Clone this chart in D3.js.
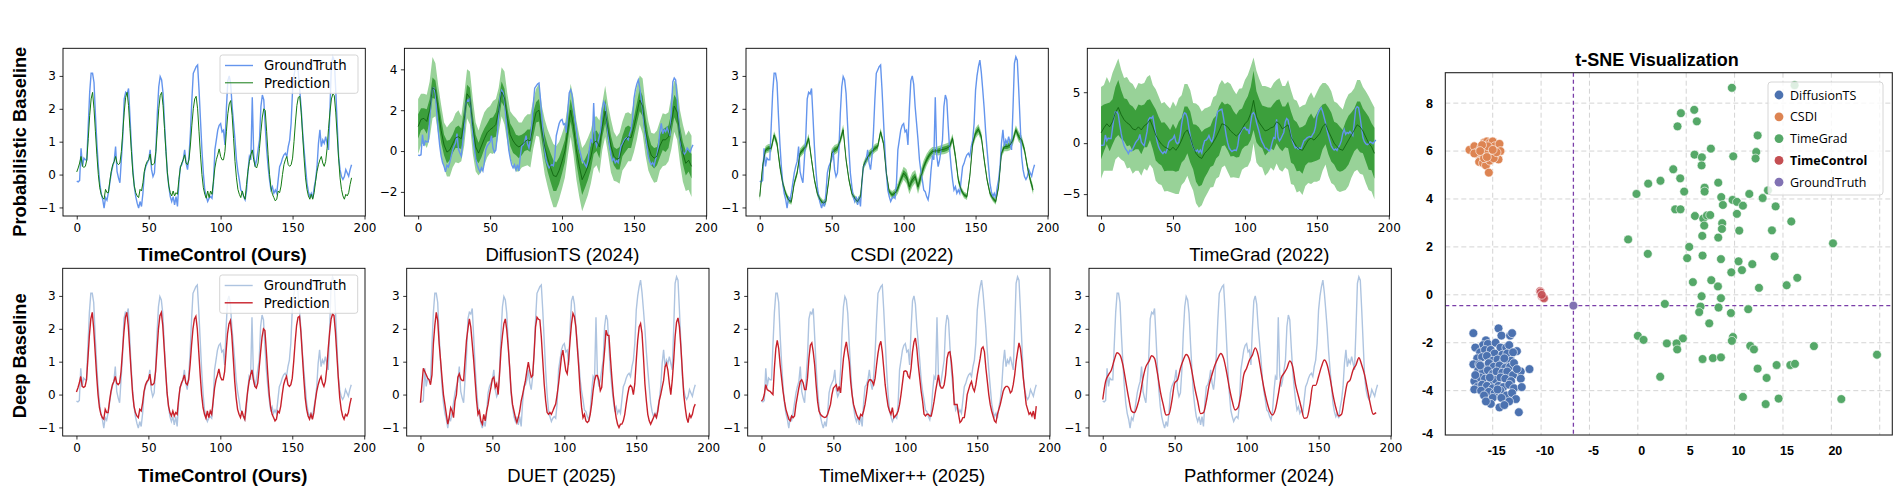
<!DOCTYPE html>
<html>
<head>
<meta charset="utf-8">
<script src="https://cdn.jsdelivr.net/npm/d3@7"></script>
<style>
body { margin: 0; background: #fff; }
text { font-family: "DejaVu Sans", sans-serif; }
</style>
</head>
<body>
<div id="chart"></div>
<script>
const W = 1893, H = 498;

// ground truth, 192 hourly steps (same series in every panel)
const groundTruth = [
  -0.2,-0.22,-0.18,0.8,0.25,0.5,0.45,0.45,1.5,2.5,3.08,3.08,
  2.8,1.8,0.95,0.25,-0.26,-0.57,-0.75,-1.02,-0.7,-0.78,-0.55,-0.25,
  0.05,0.25,0.4,0.85,0.1,-0.1,-0.25,0.45,1.15,2.3,2.5,2.45,
  2.62,1.76,0.85,0.15,-0.36,-0.67,-0.87,-1.02,-0.82,-0.97,-0.57,0.05,
  0.25,0.35,0.45,0.75,0.15,-0.06,0.05,0.75,1.86,2.67,2.98,2.88,
  2.47,1.56,0.75,0.04,-0.36,-0.67,-0.82,-0.67,-0.92,-0.67,-0.97,-0.25,
  0.24,0.3,0.45,0.75,0.35,0.15,0.55,1.26,2.27,3.08,3.18,3.28,
  3.33,2.57,1.66,0.75,0.04,-0.47,-0.67,-0.82,-0.72,-0.67,-0.72,-0.27,
  0.75,1.05,1.35,1.5,1.55,1.3,1.35,0.9,2.0,2.85,3.0,2.75,
  2.07,1.56,1.05,0.45,0.1,-0.16,-0.47,-0.52,-0.67,-0.77,-0.5,0.1,
  0.55,0.45,2.35,0.6,0.24,0.45,0.75,1.05,2.07,2.42,2.27,1.46,
  0.75,0.24,-0.16,-0.47,-0.37,-0.57,-0.47,-0.57,-0.16,0.24,0.34,0.5,
  0.6,0.65,0.55,0.85,1.05,1.56,2.57,3.0,3.28,3.48,3.1,2.57,
  2.0,1.3,0.75,0.24,-0.26,-0.52,-0.67,-0.57,-0.72,-0.4,-0.16,0.24,
  0.95,1.36,0.85,1.05,0.95,1.15,0.95,0.75,2.0,3.38,3.58,3.48,
  2.57,1.56,0.55,0.15,-0.06,-0.15,-0.06,0.15,0.05,-0.05,0.15,0.3
];

const timeControl = [
  0.08,0.2,0.35,0.55,0.25,0.22,0.25,0.45,1.1,1.8,2.3,2.5,
  2.0,1.3,0.6,0.0,-0.4,-0.6,-0.7,-0.75,-0.45,-0.55,-0.55,-0.2,
  0.1,0.3,0.4,0.55,0.35,0.3,0.35,0.7,1.3,1.9,2.35,2.5,
  2.1,1.4,0.7,0.05,-0.35,-0.55,-0.65,-0.7,-0.45,-0.5,-0.25,0.1,
  0.3,0.4,0.45,0.62,0.3,0.3,0.35,0.7,1.35,2.0,2.4,2.5,
  2.1,1.4,0.7,0.05,-0.35,-0.55,-0.65,-0.5,-0.65,-0.55,-0.6,-0.15,
  0.2,0.35,0.45,0.6,0.35,0.3,0.45,0.9,1.5,2.0,2.3,2.38,
  2.0,1.3,0.6,0.0,-0.4,-0.6,-0.72,-0.5,-0.7,-0.5,-0.6,-0.2,
  0.2,0.45,0.6,0.78,0.55,0.45,0.45,0.7,1.3,1.85,2.15,2.25,
  1.8,1.1,0.4,-0.1,-0.45,-0.6,-0.7,-0.5,-0.65,-0.75,-0.3,0.1,
  0.4,0.6,0.75,0.45,0.25,0.2,0.35,0.8,1.3,1.75,2.0,1.95,
  1.3,0.6,0.0,-0.4,-0.6,-0.7,-0.8,-0.75,-0.5,-0.55,-0.35,0.0,
  0.3,0.45,0.55,0.3,0.25,0.3,0.5,1.0,1.6,2.1,2.35,2.38,
  1.9,1.2,0.5,-0.1,-0.45,-0.65,-0.75,-0.6,-0.75,-0.55,-0.2,0.1,
  0.3,0.45,0.55,0.35,0.25,0.4,0.8,1.4,1.9,2.3,2.45,2.4,
  1.9,1.2,0.5,-0.1,-0.45,-0.65,-0.75,-0.6,-0.65,-0.55,-0.3,-0.1
];

const duet = [
  -0.25,0.3,0.8,0.7,0.6,0.5,0.45,0.3,0.6,1.55,2.1,2.5,
  2.25,1.55,1.04,0.5,0.0,-0.3,-0.6,-0.9,-0.7,-0.4,-0.5,-0.7,
  -0.2,0.0,0.53,0.63,0.48,0.43,0.43,1.04,1.65,2.0,2.3,2.05,
  1.55,1.04,0.43,-0.18,-0.6,-0.5,-0.8,-0.9,-0.6,-0.8,-0.5,-0.3,
  0.0,0.22,0.48,0.53,0.22,0.33,0.0,0.63,1.35,1.8,2.16,2.3,
  1.96,1.45,0.84,0.12,-0.3,-0.5,-0.7,-0.85,-0.7,-0.5,-0.2,0.0,
  0.22,0.43,0.73,0.99,0.73,0.53,0.58,1.25,2.06,2.35,2.29,2.27,
  1.76,1.04,0.33,-0.18,-0.54,-0.6,-0.54,-0.6,-0.5,-0.39,-0.29,0.0,
  0.33,0.73,1.14,1.35,1.04,0.73,0.63,1.04,1.65,2.16,2.47,2.37,
  2.06,1.45,0.84,0.12,-0.39,-0.7,-0.6,-0.8,-0.85,-0.8,-0.6,-0.29,
  0.12,0.43,0.58,0.58,0.43,0.12,0.22,0.84,1.35,1.96,1.8,1.8,
  1.14,0.53,0.0,-0.39,-0.7,-0.9,-1.0,-0.9,-0.9,-0.8,-0.6,-0.29,
  0.0,0.22,0.28,0.22,0.0,0.33,1.04,1.65,2.06,2.16,1.86,1.14,
  0.33,-0.18,-0.6,-0.8,-0.9,-0.8,-0.7,-0.6,-0.7,-0.5,-0.18,0.0,
  0.22,0.43,0.84,0.94,0.73,0.33,0.0,0.43,1.04,1.76,2.2,2.33,
  2.06,1.45,0.73,0.0,-0.39,-0.7,-0.85,-0.6,-0.7,-0.6,-0.39,-0.29
];

const timeMixer = [
  -0.2,-0.15,0.0,0.3,0.15,0.12,0.1,0.05,0.0,0.8,1.4,1.65,
  1.4,0.9,0.5,0.1,-0.2,-0.45,-0.6,-0.75,-0.8,-0.65,-0.7,-0.65,
  -0.3,-0.05,0.2,0.4,0.45,0.35,0.15,0.15,0.5,1.1,1.5,1.57,
  1.3,0.9,0.3,-0.2,-0.5,-0.6,-0.65,-0.68,-0.7,-0.68,-0.6,-0.45,
  -0.3,0.0,0.2,0.25,0.3,0.1,0.25,0.05,0.6,1.1,1.4,1.6,
  1.3,1.0,0.4,0.0,-0.3,-0.45,-0.6,-0.7,-0.75,-0.6,-0.65,-0.5,
  -0.3,0.0,0.35,0.45,0.45,0.4,0.3,0.5,0.9,1.25,1.5,1.62,
  1.3,0.8,0.3,-0.05,-0.35,-0.5,-0.6,-0.4,-0.7,-0.65,-0.6,-0.5,
  -0.3,0.0,0.35,0.7,0.72,0.7,0.55,0.5,0.8,1.3,1.6,1.72,
  1.4,0.9,0.5,0.1,-0.2,-0.6,-0.65,-0.6,-0.6,-0.65,-0.65,-0.45,
  -0.2,0.1,0.35,0.6,0.3,0.2,0.2,0.3,0.6,1.1,1.28,1.3,
  1.0,0.5,-0.3,-0.3,-0.3,-0.6,-0.85,-0.8,-0.7,-0.7,-0.4,0.0,
  0.15,0.3,0.4,0.2,0.1,0.3,0.6,0.85,1.1,1.4,1.45,1.3,
  0.8,0.4,0.0,-0.3,-0.5,-0.65,-0.8,-0.85,-0.6,-0.45,-0.3,-0.1,
  0.1,0.2,0.25,0.25,0.2,0.05,0.1,0.3,0.6,1.0,1.3,1.57,
  1.4,1.0,0.5,0.1,-0.3,-0.45,-0.6,-0.55,-0.65,-0.5,-0.75,-0.35
];

// every second step from here on
const pathformer = [
  -0.15,0.4,0.6,0.75,1.05,1.27,1.2,0.9,0.4,-0.1,-0.5,-0.55,
  -0.35,0.0,0.5,0.85,1.0,1.18,1.1,0.65,0.1,-0.3,-0.62,-0.6,
  -0.2,0.35,0.45,0.8,1.05,1.22,1.1,0.7,0.2,-0.2,-0.58,-0.55,
  -0.2,0.3,0.62,0.9,1.1,1.25,1.1,0.7,0.2,-0.2,-0.47,-0.4,
  0.0,0.6,0.8,1.05,1.2,1.42,1.2,0.7,0.2,-0.2,-0.5,-0.62,
  -0.45,0.0,0.5,0.65,0.8,1.02,0.85,0.3,-0.05,-0.4,-0.72,-0.7,
  -0.3,0.28,0.28,0.55,0.85,1.05,0.9,0.5,0.0,-0.4,-0.65,-0.6,
  -0.1,0.35,0.45,0.75,0.9,1.12,0.9,0.6,0.15,-0.3,-0.6,-0.55
];

const diffusionMid = [
  1.2,1.55,1.6,1.45,2.0,3.1,3.0,2.0,1.0,0.3,-0.05,0.05,
  0.35,0.65,0.7,0.6,1.5,2.8,2.6,1.2,0.2,-0.1,0.25,0.6,
  0.9,1.05,1.15,1.3,2.0,2.9,2.6,1.6,0.8,0.5,0.3,0.2,
  0.3,0.45,0.55,0.5,1.3,1.9,2.0,1.0,0.2,-0.35,-0.8,-1.2,
  -1.25,-0.95,-0.5,0.0,1.0,2.0,1.2,0.05,-0.75,-1.4,-1.1,-0.75,
  -0.3,0.4,0.5,0.2,1.2,1.95,1.05,0.25,-0.25,-0.4,-0.35,0.25,
  0.55,0.7,0.65,1.2,1.85,2.5,2.2,1.05,0.25,-0.2,-0.35,-0.25,
  0.25,0.55,0.55,0.7,1.4,2.2,1.9,0.7,-0.1,-0.6,-0.45,-0.75
];
const diffusionInner = [
  0.6,0.55,0.5,0.6,0.55,0.5,0.45,0.55,0.6,0.5,0.55,0.5,
  0.45,0.5,0.55,0.5,0.6,0.45,0.5,0.55,0.6,0.5,0.55,0.5,
  0.45,0.55,0.5,0.6,0.55,0.5,0.45,0.5,0.55,0.6,0.5,0.55,
  0.5,0.45,0.5,0.55,0.6,0.5,0.55,0.5,0.6,0.65,0.7,0.75,
  0.7,0.65,0.6,0.55,0.5,0.55,0.6,0.65,0.7,0.75,0.7,0.65,
  0.6,0.55,0.5,0.55,0.5,0.6,0.55,0.5,0.45,0.5,0.55,0.5,
  0.6,0.55,0.5,0.45,0.5,0.55,0.5,0.6,0.55,0.5,0.5,0.45,
  0.55,0.5,0.6,0.55,0.5,0.55,0.6,0.5,0.55,0.6,0.55,0.6
];
const diffusionOuter = [
  1.35,1.25,1.2,1.3,1.4,1.5,1.3,1.2,1.25,1.1,1.2,1.3,
  1.15,1.2,1.3,1.1,1.25,1.2,1.3,1.35,1.2,1.1,1.25,1.3,
  1.2,1.15,1.3,1.25,1.1,1.2,1.3,1.2,1.15,1.25,1.3,1.2,
  1.1,1.2,1.25,1.3,1.2,1.15,1.3,1.2,1.35,1.4,1.5,1.55,
  1.5,1.4,1.35,1.3,1.25,1.3,1.4,1.45,1.5,1.55,1.45,1.4,
  1.3,1.25,1.2,1.3,1.15,1.25,1.2,1.3,1.2,1.1,1.25,1.2,
  1.3,1.2,1.15,1.25,1.3,1.2,1.35,1.25,1.2,1.1,1.2,1.25,
  1.2,1.3,1.25,1.2,1.3,1.25,1.35,1.3,1.4,1.35,1.45,1.5
];

const csdiMid = [
  -0.67,0.25,0.75,0.8,0.8,1.2,0.95,0.25,-0.26,-0.57,-0.77,-0.82,
  -0.26,0.05,0.65,0.75,0.85,1.1,0.45,-0.16,-0.57,-0.77,-0.87,-0.82,
  -0.16,0.65,0.75,0.8,1.05,1.36,0.45,-0.16,-0.57,-0.72,-0.82,-0.67,
  0.25,0.45,0.6,0.7,0.8,0.85,1.3,0.95,0.04,-0.52,-0.62,-0.57,
  -0.42,-0.16,0.04,-0.06,-0.37,-0.16,-0.06,-0.37,-0.06,0.24,0.45,0.6,
  0.7,0.72,0.72,0.75,0.77,0.8,0.85,1.1,0.55,-0.16,-0.47,-0.62,
  -0.67,-0.06,0.95,1.26,1.38,1.15,0.45,-0.16,-0.57,-0.72,-0.82,-0.37,
  0.65,0.85,0.85,0.9,1.05,1.36,1.15,1.05,0.75,0.24,-0.16,-0.47
];
const csdiInner = [
  0.08,0.07,0.06,0.07,0.06,0.06,0.07,0.08,0.06,0.05,0.05,0.05,
  0.05,0.05,0.07,0.07,0.07,0.07,0.06,0.05,0.05,0.05,0.05,0.05,
  0.06,0.07,0.08,0.07,0.07,0.08,0.06,0.05,0.05,0.05,0.05,0.05,
  0.06,0.07,0.07,0.06,0.07,0.06,0.06,0.05,0.05,0.05,0.06,0.07,
  0.08,0.09,0.1,0.11,0.12,0.11,0.1,0.11,0.12,0.1,0.09,0.08,
  0.07,0.06,0.07,0.07,0.08,0.08,0.07,0.07,0.08,0.06,0.05,0.05,
  0.05,0.06,0.07,0.08,0.08,0.07,0.06,0.05,0.05,0.05,0.05,0.05,
  0.06,0.07,0.07,0.08,0.07,0.07,0.08,0.07,0.06,0.06,0.06,0.07
];
const csdiOuter = [
  0.16,0.14,0.12,0.13,0.12,0.12,0.14,0.15,0.12,0.1,0.1,0.1,
  0.1,0.11,0.14,0.14,0.13,0.14,0.12,0.1,0.1,0.1,0.1,0.1,
  0.12,0.14,0.15,0.14,0.13,0.16,0.12,0.1,0.1,0.1,0.1,0.1,
  0.12,0.13,0.14,0.12,0.13,0.12,0.12,0.1,0.1,0.1,0.12,0.14,
  0.16,0.18,0.2,0.22,0.23,0.22,0.2,0.22,0.23,0.2,0.18,0.16,
  0.14,0.12,0.14,0.14,0.15,0.15,0.14,0.14,0.16,0.12,0.1,0.1,
  0.1,0.12,0.14,0.16,0.16,0.14,0.12,0.1,0.1,0.1,0.1,0.1,
  0.12,0.14,0.14,0.16,0.14,0.14,0.16,0.14,0.12,0.12,0.12,0.14
];

const timeGradMid = [
  1.0,1.5,1.9,1.6,2.1,3.0,3.5,2.8,2.3,2.0,1.8,1.4,
  1.3,1.6,1.3,1.7,1.9,2.3,1.6,0.8,0.3,-0.1,-0.35,-0.5,
  -0.7,-0.4,-0.7,-0.3,0.3,1.0,1.3,0.6,-0.35,-1.0,-1.35,-1.5,
  -1.0,-0.7,-0.35,0.1,0.6,1.2,1.9,1.8,1.6,1.2,0.95,0.7,
  0.95,1.4,1.9,2.2,2.9,4.2,2.6,2.0,1.6,1.2,1.3,1.5,
  1.6,2.1,1.9,1.4,1.6,1.8,0.6,0.1,-0.35,-0.6,-0.7,-0.2,
  0.3,0.5,0.3,0.6,0.95,1.6,1.9,1.2,0.6,0.0,-0.35,-0.6,
  -0.7,-0.2,0.3,0.8,1.3,1.8,1.6,1.2,0.6,0.0,-0.35,-1.0
];
const timeGradInner = [
  2.6,2.3,2.0,2.4,2.2,2.5,2.7,2.4,2.1,2.3,2.0,2.2,
  1.9,2.2,2.4,2.1,2.3,2.0,2.2,2.5,2.3,2.1,2.4,2.2,
  2.0,2.3,2.1,2.4,2.2,2.6,2.3,2.5,2.2,2.8,2.9,2.6,
  2.4,2.2,2.0,2.3,2.1,2.4,2.2,2.0,2.3,2.5,2.2,2.1,
  2.3,2.0,2.2,2.4,2.6,2.9,2.5,2.3,2.1,2.4,2.2,2.0,
  2.3,2.1,2.4,2.2,2.0,2.3,2.5,2.2,2.4,2.1,2.3,2.0,
  2.2,2.4,2.1,2.3,2.5,2.2,2.0,2.3,2.4,2.1,2.3,2.2,
  2.0,2.3,2.4,2.2,2.1,2.3,2.5,2.2,2.4,2.6,2.3,2.5
];
const timeGradOuter = [
  4.5,4.2,4.6,4.3,4.8,4.6,4.8,4.4,4.1,4.5,4.2,4.4,
  4.0,4.3,4.5,4.2,4.6,4.4,4.1,4.5,4.3,4.0,4.4,4.2,
  4.1,4.5,4.3,4.7,4.4,4.8,4.5,4.6,4.3,4.9,5.0,4.6,
  4.4,4.2,4.0,4.4,4.1,4.5,4.3,4.0,4.4,4.6,4.3,4.1,
  4.4,4.0,4.3,4.5,4.6,4.2,4.5,4.3,4.0,4.4,4.2,3.9,
  4.3,4.1,4.5,4.2,4.0,4.4,4.6,4.2,4.5,4.1,4.4,4.0,
  4.2,4.5,4.1,4.4,4.6,4.3,4.0,4.4,4.5,4.1,4.3,4.2,
  4.0,4.4,4.5,4.2,4.1,4.4,4.6,4.3,4.5,4.6,4.4,4.5
];

const stepsAll = d3.range(0, 192);
const stepsHalf = d3.range(0, 192, 2);

// t-SNE points
const tsneDiffusion = [
  [-17.0,-1.6],[-14.4,-1.4],[-14.1,-1.7],[-13.2,-1.7],[-13.0,-1.6],[-15.7,-1.9],[-16.0,-2.1],[-15.5,-2.05],
  [-14.7,-2.0],[-14.2,-2.2],[-13.6,-2.2],[-13.3,-2.1],[-12.5,-2.35],[-16.8,-2.2],[-16.3,-2.4],[-15.8,-2.3],
  [-15.2,-2.3],[-14.8,-2.45],[-14.0,-2.5],[-13.5,-2.45],[-12.9,-2.4],[-16.6,-2.65],[-16.1,-2.6],[-15.6,-2.55],
  [-15.0,-2.75],[-14.5,-2.7],[-13.9,-2.8],[-13.1,-2.75],[-17.0,-2.9],[-16.4,-2.9],[-15.9,-3.0],[-15.4,-2.85],
  [-14.9,-3.0],[-14.3,-2.95],[-13.7,-3.05],[-13.2,-3.0],[-12.8,-2.85],[-16.5,-3.15],[-16.0,-3.2],[-15.5,-3.15],
  [-15.0,-3.3],[-14.6,-3.2],[-14.0,-3.25],[-13.5,-3.2],[-12.9,-3.35],[-12.1,-3.2],[-11.2,-3.1],[-16.9,-3.6],
  [-16.3,-3.45],[-15.8,-3.5],[-15.2,-3.6],[-14.7,-3.55],[-14.2,-3.45],[-13.7,-3.5],[-13.1,-3.6],[-12.1,-3.5],
  [-16.6,-3.85],[-16.1,-3.75],[-15.6,-3.8],[-15.0,-3.9],[-14.4,-3.8],[-13.9,-3.85],[-13.3,-3.75],[-12.8,-3.9],
  [-12.0,-3.85],[-16.9,-3.95],[-16.2,-4.0],[-15.4,-4.05],[-14.8,-4.1],[-14.2,-4.0],[-13.6,-4.2],[-13.0,-4.1],
  [-15.9,-4.2],[-15.0,-4.3],[-14.1,-4.3],[-12.6,-4.35],[-15.2,-4.55],[-13.3,-4.45],[-14.3,-4.7],[-12.3,-4.9],
  [-16.3,-2.95],[-15.3,-3.45],[-14.5,-3.95],[-13.8,-2.65],[-12.5,-3.1],[-16.8,-3.35],[-15.7,-4.45],[-13.8,-4.6]
];
const tsneCsdi = [
  [-17.4,6.05],[-16.9,6.2],[-16.4,5.8],[-16.2,6.15],[-15.9,6.35],[-15.6,6.4],[-15.3,6.35],[-15.0,6.4],
  [-14.8,6.2],[-14.3,6.3],[-14.2,6.0],[-14.4,5.65],[-14.8,5.8],[-15.1,5.95],[-15.4,6.1],[-15.8,5.95],
  [-16.2,5.75],[-16.4,5.55],[-16.0,5.5],[-15.7,5.4],[-15.3,5.6],[-14.9,5.7],[-14.6,5.95],[-15.5,6.2],
  [-15.9,5.7],[-16.6,5.95],[-16.9,5.9],[-15.4,5.1],[-16.1,6.25],[-15.0,6.05],[-15.6,5.75],[-16.3,6.0]
];
const tsneTimeGrad = [
  [9.72,8.64],[16.2,8.75],[4.45,7.58],[5.83,7.72],[6.1,7.24],[4.1,7.03],[12.38,6.65],[12.24,5.96],
  [12.17,5.69],[7.55,6.1],[5.86,5.85],[6.62,5.74],[6.59,5.4],[9.86,5.78],[3.66,5.24],[4.38,4.86],
  [2.34,4.76],[1.07,4.64],[-0.14,4.21],[4.79,4.31],[6.9,4.47],[6.9,4.31],[8.31,4.68],[8.62,4.08],
  [9.79,3.96],[10.24,3.88],[11.52,4.21],[12.9,4.04],[13.45,4.36],[10.86,3.72],[8.79,3.75],[14.24,3.69],
  [3.86,3.57],[4.41,3.57],[5.9,3.29],[6.76,3.18],[7.14,3.31],[7.48,3.33],[10.24,3.38],[8.72,2.99],
  [6.86,2.89],[8.69,2.75],[15.86,3.06],[10.48,2.68],[13.86,2.69],[6.66,2.46],[8.31,2.39],[-1.0,2.31],
  [5.31,2.0],[20.17,2.15],[1.03,1.71],[5.1,1.53],[6.69,1.64],[8.59,1.49],[10.41,1.4],[11.83,1.28],
  [14.14,1.6],[10.76,1.03],[9.66,0.94],[16.48,0.71],[5.69,0.53],[7.59,0.61],[8.28,0.35],[12.52,0.29],
  [15.38,0.4],[6.59,-0.06],[8.59,-0.14],[2.79,-0.38],[6.48,-0.49],[8.34,-0.53],[6.34,-0.72],[9.62,-0.76],
  [11.41,-0.6],[7.38,-1.19],[0.0,-1.71],[0.59,-1.88],[4.66,-1.82],[3.0,-2.03],[4.0,-2.03],[4.07,-2.28],
  [9.83,-1.76],[9.72,-1.92],[11.62,-2.13],[12.0,-2.28],[18.2,-2.14],[6.69,-2.68],[7.76,-2.64],[8.59,-2.61],
  [24.72,-2.5],[12.38,-3.08],[14.34,-2.93],[15.76,-2.93],[16.24,-2.88],[13.31,-3.47],[2.31,-3.42],[10.86,-4.26],
  [13.21,-4.56],[14.55,-4.33],[21.03,-4.35]
];
const tsneTimeControl = [[-10.1,0.15],[-10.05,0.1],[-9.95,-0.05],[-9.8,-0.1],[-9.7,-0.15],[-9.93,0.0]];
const tsneGroundTruth = [[-6.66,-0.45]];
const tsneXTicks = [-15, -10, -5, 0, 5, 10, 15, 20];
const tsneXGrid = [-15, -10, -5, 0, 5, 10, 15, 20, 25];
const tsneYTicks = [8, 6, 4, 2, 0, -2, -4];
const tsneLegend = ["DiffusionTS", "CSDI", "TimeGrad", "TimeControl", "GroundTruth"];

const C = {
  gtTop: "#6495ed", gtBottom: "#aec4e0", green: "#137b13", red: "#c8202a",
  bandOuter: "#98d298", bandInner: "#3c9f3c", mid: "#0b5e0b",
  blue: "#4c72b0", orange: "#dd8452", tgreen: "#55a868", tred: "#c44e52", purple: "#8172b3"
};

const svg = d3.select("#chart").append("svg").attr("width", W).attr("height", H);

const panelW = 302.3, panelH = 167.7;
const xDomain = [-9.55, 200.55];
const gtDomain = [-1.26, 3.84];

function panel(o) {
  const g = svg.append("g").attr("transform", `translate(${o.left},${o.top})`);
  const x = d3.scaleLinear().domain(xDomain).range([0, panelW]);
  const y = d3.scaleLinear().domain(o.yDomain).range([panelH, 0]);
  const id = "clip" + Math.round(o.left) + "_" + Math.round(o.top);
  g.append("clipPath").attr("id", id).append("rect").attr("width", panelW).attr("height", panelH);
  const plot = g.append("g").attr("clip-path", `url(#${id})`);

  if (o.band) {
    const b = o.band;
    const area = (w) => d3.area()
      .x((d, i) => x(stepsHalf[i]))
      .y0((d, i) => y(d - w[i]))
      .y1((d, i) => y(d + w[i]));
    plot.append("path").datum(b.mid).attr("d", area(b.outer)).attr("fill", C.bandOuter);
    plot.append("path").datum(b.mid).attr("d", area(b.inner)).attr("fill", C.bandInner);
  }
  const line = (xs) => d3.line().x((d, i) => x(xs[i])).y(d => y(d));
  plot.append("path").datum(groundTruth).attr("d", line(stepsAll))
    .attr("fill", "none").attr("stroke", o.gtColor).attr("stroke-width", 1.4);
  if (o.band) {
    plot.append("path").datum(o.band.mid).attr("d", line(stepsHalf))
      .attr("fill", "none").attr("stroke", C.mid).attr("stroke-width", 0.8);
  }
  if (o.pred) {
    const xs = o.pred.length === 192 ? stepsAll : stepsHalf;
    const ln = line(xs);
    if (o.smooth) ln.curve(d3.curveMonotoneX);
    plot.append("path").datum(o.pred).attr("d", ln)
      .attr("fill", "none").attr("stroke", o.predColor).attr("stroke-width", o.predWidth || 1.4);
  }

  // axes
  const xa = g.append("g").attr("transform", `translate(0,${panelH})`)
    .call(d3.axisBottom(x).tickValues([0, 50, 100, 150, 200]).tickSize(3.5).tickPadding(3.5));
  const ya = g.append("g")
    .call(d3.axisLeft(y).tickValues(o.yTicks).tickSize(3.5).tickPadding(3.5).tickFormat(d => d < 0 ? "\u2212" + Math.abs(d) : d));
  [xa, ya].forEach(a => {
    a.select(".domain").remove();
    a.selectAll("line").attr("stroke", "#000").attr("stroke-width", 0.8);
    a.selectAll("text").attr("fill", "#000").style("font-size", "12px").style("font-family", "DejaVu Sans");
  });
  g.append("rect").attr("width", panelW).attr("height", panelH)
    .attr("fill", "none").attr("stroke", "#000").attr("stroke-width", 0.9);

  g.append("text").attr("x", o.labelDx).attr("y", o.labelY - o.top)
    .attr("text-anchor", "middle")
    .style("font-family", "Liberation Sans, Arial, sans-serif")
    .style("font-size", "18.5px").style("font-weight", o.bold ? "bold" : "normal")
    .text(o.label);

  if (o.legend) {
    const lg = g.append("g").attr("transform", "translate(157,6.7)");
    lg.append("rect").attr("width", 138).attr("height", 38.3).attr("rx", 2.5)
      .attr("fill", "#fff").attr("fill-opacity", 0.8).attr("stroke", "#d0d0d0").attr("stroke-width", 0.9);
    [["GroundTruth", o.gtColor, 1.4], ["Prediction", o.predColor, o.predWidth || 1.4]].forEach((e, i) => {
      const yy = 10.5 + i * 17.3;
      lg.append("line").attr("x1", 5).attr("x2", 33).attr("y1", yy).attr("y2", yy)
        .attr("stroke", e[1]).attr("stroke-width", e[2]);
      lg.append("text").attr("x", 44).attr("y", yy).attr("dy", "0.36em")
        .style("font-size", "13.3px").text(e[0]);
    });
  }
}

const topLefts = [63, 404.4, 746, 1087.3];
const botLefts = [62.7, 406.7, 747.7, 1089];
const topY = 48.3, botY = 268.3;

panel({ left: topLefts[0], top: topY, yDomain: gtDomain, yTicks: [-1, 0, 1, 2, 3], gtColor: C.gtTop,
  pred: timeControl, predColor: C.green, predWidth: 1.0, legend: true,
  label: "TimeControl (Ours)", bold: true, labelDx: 159, labelY: 261 });
panel({ left: topLefts[1], top: topY, yDomain: [-3.18, 5.03], yTicks: [-2, 0, 2, 4], gtColor: C.gtTop,
  band: { mid: diffusionMid, inner: diffusionInner, outer: diffusionOuter },
  label: "DiffusionTS (2024)", labelDx: 158, labelY: 261 });
panel({ left: topLefts[2], top: topY, yDomain: gtDomain, yTicks: [-1, 0, 1, 2, 3], gtColor: C.gtTop,
  band: { mid: csdiMid, inner: csdiInner, outer: csdiOuter },
  label: "CSDI (2022)", labelDx: 156, labelY: 261 });
panel({ left: topLefts[3], top: topY, yDomain: [-7.15, 9.31], yTicks: [-5, 0, 5], gtColor: C.gtTop,
  band: { mid: timeGradMid, inner: timeGradInner, outer: timeGradOuter },
  label: "TimeGrad (2022)", labelDx: 172, labelY: 261 });

panel({ left: botLefts[0], top: botY, yDomain: gtDomain, yTicks: [-1, 0, 1, 2, 3], gtColor: C.gtBottom,
  pred: timeControl, predColor: C.red, legend: true,
  label: "TimeControl (Ours)", bold: true, labelDx: 160, labelY: 482 });
panel({ left: botLefts[1], top: botY, yDomain: gtDomain, yTicks: [-1, 0, 1, 2, 3], gtColor: C.gtBottom,
  pred: duet, predColor: C.red, label: "DUET (2025)", labelDx: 155, labelY: 482 });
panel({ left: botLefts[2], top: botY, yDomain: gtDomain, yTicks: [-1, 0, 1, 2, 3], gtColor: C.gtBottom,
  pred: timeMixer, predColor: C.red, label: "TimeMixer++ (2025)", labelDx: 154.5, labelY: 482 });
panel({ left: botLefts[3], top: botY, yDomain: gtDomain, yTicks: [-1, 0, 1, 2, 3], gtColor: C.gtBottom,
  pred: pathformer, predColor: C.red, smooth: true, label: "Pathformer (2024)", labelDx: 170, labelY: 482 });

// row titles
[["Probabilistic Baseline", 26, 141.7], ["Deep Baseline", 25.5, 355.8]].forEach(r => {
  svg.append("text").attr("transform", `translate(${r[1]},${r[2]}) rotate(-90)`)
    .attr("text-anchor", "middle")
    .style("font-family", "Liberation Sans, Arial, sans-serif")
    .style("font-size", "18.3px").style("font-weight", "bold").text(r[0]);
});

// t-SNE panel
(function () {
  const L = 1445.3, R = 1892.3, T = 72.7, B = 435;
  const x = d3.scaleLinear().domain([-19.9, 26.3]).range([L, R]);
  const y = d3.scaleLinear().domain([-5.85, 9.27]).range([B, T]);
  const g = svg.append("g");
  g.append("clipPath").attr("id", "tsneclip").append("rect")
    .attr("x", L).attr("y", T).attr("width", R - L).attr("height", B - T);
  const p = g.append("g").attr("clip-path", "url(#tsneclip)");

  p.selectAll(".vg").data(tsneXGrid).join("line")
    .attr("x1", d => x(d)).attr("x2", d => x(d)).attr("y1", T).attr("y2", B)
    .attr("stroke", "#d4d4d4").attr("stroke-width", 1).attr("stroke-dasharray", "5,3");
  p.selectAll(".hg").data(tsneYTicks).join("line")
    .attr("y1", d => y(d)).attr("y2", d => y(d)).attr("x1", L).attr("x2", R)
    .attr("stroke", "#d4d4d4").attr("stroke-width", 1).attr("stroke-dasharray", "5,3");

  const gt = tsneGroundTruth[0];
  p.append("line").attr("x1", x(gt[0])).attr("x2", x(gt[0])).attr("y1", T).attr("y2", B)
    .attr("stroke", "#7a3ea8").attr("stroke-width", 1.3).attr("stroke-dasharray", "4,3");
  p.append("line").attr("y1", y(gt[1])).attr("y2", y(gt[1])).attr("x1", L).attr("x2", R)
    .attr("stroke", "#7a3ea8").attr("stroke-width", 1.3).attr("stroke-dasharray", "4,3");

  const dots = (data, color, op) => p.append("g").selectAll("circle").data(data).join("circle")
    .attr("cx", d => x(d[0])).attr("cy", d => y(d[1])).attr("r", 4.4)
    .attr("fill", color).attr("fill-opacity", op).attr("stroke", "#fff").attr("stroke-width", 0.6);
  dots(tsneDiffusion, C.blue, 1);
  dots(tsneCsdi, C.orange, 1);
  dots(tsneTimeGrad, C.tgreen, 1);
  dots(tsneTimeControl, C.tred, 0.85);
  dots(tsneGroundTruth, C.purple, 1);

  g.append("rect").attr("x", L).attr("y", T).attr("width", R - L).attr("height", B - T)
    .attr("fill", "none").attr("stroke", "#222").attr("stroke-width", 1.1);

  const tickFont = (s) => s.style("font-family", "Liberation Sans, Arial, sans-serif")
    .style("font-weight", "bold").style("font-size", "12.5px");
  g.selectAll(".xt").data(tsneXTicks).join("text")
    .attr("x", d => x(d) + 4).attr("y", 455).attr("text-anchor", "middle")
    .text(d => d).call(tickFont);
  g.selectAll(".yt").data(tsneYTicks).join("text")
    .attr("x", 1433).attr("y", d => y(d)).attr("dy", "0.35em").attr("text-anchor", "end")
    .text(d => d).call(tickFont);
  // extra label sitting on the lower frame edge, as in the original
  g.append("text").attr("x", 1433).attr("y", y(-5.85)).attr("dy", "0.2em").attr("text-anchor", "end")
    .text(tsneYTicks[tsneYTicks.length - 1]).call(tickFont);

  g.append("text").attr("x", 1657).attr("y", 66).attr("text-anchor", "middle")
    .style("font-family", "Liberation Sans, Arial, sans-serif")
    .style("font-weight", "bold").style("font-size", "18px").text("t-SNE Visualization");

  const lg = g.append("g").attr("transform", "translate(1768,82)");
  lg.append("rect").attr("width", 115).attr("height", 113).attr("rx", 3)
    .attr("fill", "#fff").attr("fill-opacity", 0.8).attr("stroke", "#d6d6d6");
  const lc = [C.blue, C.orange, C.tgreen, C.tred, C.purple];
  tsneLegend.forEach((name, i) => {
    const yy = 13 + i * 21.8;
    lg.append("circle").attr("cx", 11).attr("cy", yy).attr("r", 4.4).attr("fill", lc[i]);
    lg.append("text").attr("x", 22).attr("y", yy).attr("dy", "0.36em")
      .style("font-family", "Open Sans, sans-serif").style("font-size", "12.5px")
      .style("font-weight", name === "TimeControl" ? "bold" : "normal").text(name);
  });
})();
</script>
</body>
</html>
